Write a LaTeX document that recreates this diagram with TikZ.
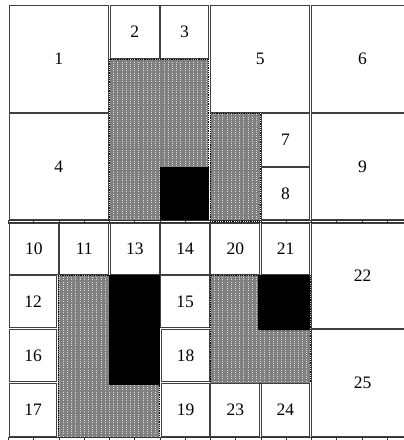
\documentclass[tikz,border=0pt]{standalone}
\usepackage{fontspec}
\setmainfont{Liberation Serif}
\begin{document}
\begin{tikzpicture}[x=1pt,y=-1pt,
  cellst/.style={draw=black!75, line width=0.9pt, rectangle, inner sep=0pt, font=\fontsize{17.5}{17.5}\selectfont},
  shadest/.style={fill=black!50, draw=black, densely dotted, line width=0.8pt},
  texst/.style={draw=white!85!black, line width=0.6pt, dash pattern=on 1pt off 1.2pt},
  blackst/.style={fill=black, draw=black},
  rulest/.style={draw=black!80, line width=0.8pt}]
\useasboundingbox (0,0) rectangle (404,440);
\clip (0,0) rectangle (404,440);
\newcommand\cellbox[6]{\node[cellst, minimum width={#4-#2-1.5}, minimum height={#5-#3-1.5}] (#1) at ({(#2+#4)/2},{(#3+#5)/2}) {#6};}
\newcommand\shaded[1]{%
  \path[shadest] #1;
  \begin{scope}
    \clip #1;
    \foreach \k in {0,...,100}{\draw[texst] ({\k*4.2},0) -- ({\k*4.2},440);}
  \end{scope}
  \path[draw=black, densely dotted, line width=0.8pt] #1;}
% shaded regions
\shaded{(109.5,59) rectangle (208,220)}
\path[blackst] (160,167) rectangle (208,219);
\shaded{(210,113) rectangle (260,221)}
\shaded{(58,275) -- (109.5,275) -- (109.5,383) -- (159,383) -- (159,437) -- (58,437) -- cycle}
\path[blackst] (109.5,275) rectangle (159,384);
\shaded{(210,275) rectangle (310,383)}
\path[blackst, rounded corners=1.5pt] (258,275) rectangle (310,330);
% upper cells
\cellbox{c1}{8.5}{5}{109}{113}{1}
\cellbox{c4}{8.5}{113}{109}{220}{4}
\cellbox{c2}{109.5}{5}{160}{59}{2}
\cellbox{c3}{160}{5}{209}{59}{3}
\cellbox{c5}{210}{5}{310.5}{113}{5}
\cellbox{c6}{311}{5}{414}{113}{6}
\cellbox{c7}{260.5}{113}{310.5}{167}{7}
\cellbox{c8}{260.5}{167}{310.5}{220}{8}
\cellbox{c9}{311}{113}{414}{220}{9}
% lower cells
\cellbox{c10}{8.5}{223}{59}{275}{10}
\cellbox{c11}{59}{223}{109.5}{275}{11}
\cellbox{c13}{109.5}{223}{160}{275}{13}
\cellbox{c14}{160}{223}{210}{275}{14}
\cellbox{c20}{210}{223}{260.5}{275}{20}
\cellbox{c21}{260.5}{223}{310.5}{275}{21}
\cellbox{c22}{311}{223}{414}{329}{22}
\cellbox{c12}{8.5}{275}{57.5}{328}{12}
\cellbox{c16}{8.5}{329}{57.5}{382}{16}
\cellbox{c17}{8.5}{383}{57.5}{437}{17}
\cellbox{c15}{160}{275}{210}{328}{15}
\cellbox{c18}{161}{329}{210}{382}{18}
\cellbox{c19}{161}{383}{210}{437}{19}
\cellbox{c23}{210}{383}{260.5}{437}{23}
\cellbox{c24}{260.5}{383}{310}{437}{24}
\cellbox{c25}{311}{329}{414}{437}{25}
% rules with ticks
\draw[rulest] (8,220.5) -- (404,220.5);
\draw[rulest] (8,222.8) -- (404,222.8);
\draw[rulest] (8,437.8) -- (404,437.8);
\foreach \i in {0,...,15}{
  \draw[rulest] ({8.5+25.25*\i},219.5) -- ({8.5+25.25*\i},223.5);
  \draw[rulest] ({8.5+25.25*\i},437.5) -- ({8.5+25.25*\i},440);
}
\end{tikzpicture}
\end{document}
